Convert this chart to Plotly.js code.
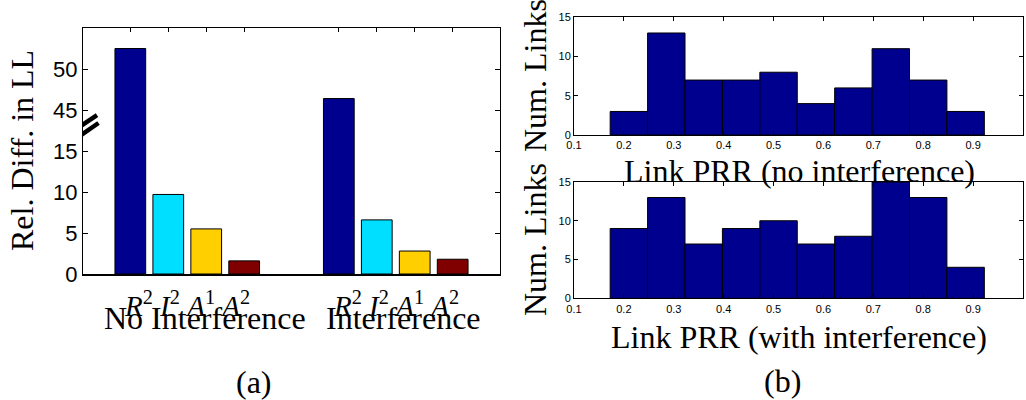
<!DOCTYPE html>
<html>
<head>
<meta charset="utf-8">
<script src="https://cdn.plot.ly/plotly-3.0.1.min.js"></script>
<style>
  html, body { margin: 0; padding: 0; background: #fff; }
  #chart { width: 1026px; height: 400px; }
</style>
</head>
<body>
<div id="chart"></div>
<script>
// ---- (a) relative difference in log-likelihood ----
const groups = ['No Interference', 'Interference'];
const seriesLabels = ['<i>R</i><sup>2</sup>', '<i>I</i><sup>2</sup>', '<i>A</i><sup>1</sup>', '<i>A</i><sup>2</sup>'];
const r2Values = [52.5, 46.4];
const i2Values = [9.7, 6.6];
const a1Values = [5.5, 2.8];
const a2Values = [1.6, 1.8];
const relDiffTicks = [0, 5, 10, 15, 45, 50];

// ---- (b) link PRR histograms ----
const prrBinCenters = [0.21, 0.285, 0.36, 0.435, 0.51, 0.585, 0.66, 0.735, 0.81, 0.885];
const prrBinWidth = 0.075;
const linksNoInterference = [3, 13, 7, 7, 8, 4, 6, 11, 7, 3];
const linksWithInterference = [9, 13, 7, 9, 10, 7, 8, 15, 13, 4];

// broken y axis: everything above the break is shifted down by GAP
const BREAK_LOW = 15, GAP = 25;
const toAxis = v => (v > BREAK_LOW + 10 ? v - GAP : v);

const jet4 = ['#00008F', '#00DFFF', '#FFCF00', '#800000'];
const serif = 'Liberation Serif, Times New Roman, serif';
const sans = 'Liberation Sans, Arial, sans-serif';

const groupX = groups.map((_, i) => i + 1);
const barSeries = [r2Values, i2Values, a1Values, a2Values];
const BARGAP = 0.272;
const slot = (1 - BARGAP) / barSeries.length;

const traces = barSeries.map((vals, k) => ({
  type: 'bar',
  x: groupX,
  y: vals.map(toAxis),
  text: vals.map(v => v.toFixed(1)),
  hovertemplate: '%{text}<extra></extra>',
  textposition: 'none',
  marker: { color: jet4[k], line: { color: '#000', width: 1 } },
  xaxis: 'x', yaxis: 'y',
  showlegend: false
}));

// ticks at each bar centre along the top edge
const barCenters = [];
groupX.forEach(g => {
  for (let k = 0; k < barSeries.length; k++) barCenters.push(g + (k - (barSeries.length - 1) / 2) * slot);
});
traces.push({ type: 'scatter', x: [groupX[0]], y: [0], xaxis: 'x2', yaxis: 'y',
  mode: 'markers', marker: { opacity: 0 }, hoverinfo: 'skip', showlegend: false });

const histTraces = [
  { counts: linksNoInterference, xa: 'x3', ya: 'y3' },
  { counts: linksWithInterference, xa: 'x4', ya: 'y4' }
].map(h => ({
  type: 'bar',
  x: prrBinCenters,
  y: h.counts,
  width: prrBinWidth,
  marker: { color: '#00008F', line: { color: '#000', width: 1 } },
  xaxis: h.xa, yaxis: h.ya,
  hovertemplate: 'PRR %{x:.3f}: %{y}<extra></extra>',
  showlegend: false
}));

const leftDom = [83 / 1026, 500 / 1026];
const rightDom = [574 / 1026, 1023 / 1026];
const py = px => 1 - px / 400;

const histX = {
  range: [0.1, 1], dtick: 0.1, tick0: 0.1,
  ticks: 'inside', ticklen: 4, tickcolor: '#000',
  showline: true, linecolor: '#000', linewidth: 1, mirror: 'ticks',
  tickfont: { family: sans, size: 11, color: '#000' },
  showgrid: false, zeroline: false, fixedrange: true
};
const histY = {
  range: [0, 15], tickvals: [0, 5, 10, 15],
  ticks: 'inside', ticklen: 4, tickcolor: '#000',
  showline: true, linecolor: '#000', linewidth: 1, mirror: 'ticks',
  tickfont: { family: sans, size: 11, color: '#000' },
  showgrid: false, zeroline: false, fixedrange: true
};

const layout = {
  width: 1026, height: 400,
  margin: { l: 0, r: 0, t: 0, b: 0 },
  paper_bgcolor: '#fff', plot_bgcolor: '#fff',
  barmode: 'group', bargap: BARGAP, bargroupgap: 0.19,
  xaxis: {
    domain: leftDom, range: [0.5, 2.5],
    showline: true, linecolor: '#000', linewidth: 2,
    ticks: '', showticklabels: false, showgrid: false, zeroline: false, fixedrange: true
  },
  xaxis2: {
    overlaying: 'x', side: 'top', anchor: 'y', matches: 'x', range: [0.5, 2.5],
    tickvals: barCenters, ticks: 'inside', ticklen: 4, tickcolor: '#000',
    showline: true, linecolor: '#000', linewidth: 1,
    showticklabels: false, showgrid: false, zeroline: false, fixedrange: true
  },
  yaxis: {
    domain: [py(274), py(28)], range: [0, 30],
    tickvals: relDiffTicks.map(toAxis), ticktext: relDiffTicks.map(String),
    ticks: 'inside', ticklen: 5, tickcolor: '#000',
    showline: true, linecolor: '#000', linewidth: 1, mirror: 'ticks',
    tickfont: { family: sans, size: 22, color: '#000' },
    showgrid: false, zeroline: false, fixedrange: true
  },
  xaxis3: Object.assign({ domain: rightDom, anchor: 'y3' }, histX),
  yaxis3: Object.assign({ domain: [py(135), py(17.3)], anchor: 'x3' }, histY),
  xaxis4: Object.assign({ domain: rightDom, anchor: 'y4' }, histX),
  yaxis4: Object.assign({ domain: [py(298.3), py(182)], anchor: 'x4' }, histY),
  annotations: [],
  shapes: []
};

const A = layout.annotations;
const serifFont = size => ({ family: serif, size: size, color: '#000' });
const TXT = 32;

// series labels and group names under each group
const groupNameShift = [18, 8];
groupX.forEach((g, i) => {
  A.push({ xref: 'x', yref: 'paper', x: g, y: py(304), xanchor: 'center', yanchor: 'middle',
    text: seriesLabels.join(' '), showarrow: false, font: serifFont(29) });
  A.push({ xref: 'x', yref: 'paper', x: g, y: py(318), xshift: groupNameShift[i], xanchor: 'center', yanchor: 'middle',
    text: groups[i], showarrow: false, font: serifFont(TXT) });
});
A.push({ xref: 'paper', yref: 'paper', x: 22 / 1026, y: py(151), textangle: -90,
  xanchor: 'center', yanchor: 'middle', text: 'Rel. Diff. in LL', showarrow: false, font: serifFont(TXT) });
A.push({ xref: 'paper', yref: 'paper', x: 254 / 1026, y: py(382), xanchor: 'center', yanchor: 'middle',
  text: '(a)', showarrow: false, font: serifFont(TXT) });

// histogram axis titles
[[76, 'Link PRR (no interference)', 171], [240, 'Link PRR (with interference)', 337]].forEach(([cy, t, ty]) => {
  A.push({ xref: 'paper', yref: 'paper', x: 535 / 1026, y: py(cy), textangle: -90,
    xanchor: 'center', yanchor: 'middle', text: 'Num. Links', showarrow: false, font: serifFont(TXT) });
  A.push({ xref: 'paper', yref: 'paper', x: 799 / 1026, y: py(ty), xanchor: 'center', yanchor: 'middle',
    text: t, showarrow: false, font: serifFont(TXT) });
});
A.push({ xref: 'paper', yref: 'paper', x: 782 / 1026, y: py(381), xanchor: 'center', yanchor: 'middle',
  text: '(b)', showarrow: false, font: serifFont(TXT) });

// axis-break marks on the left spine (offsets in pixels from the break point)
const breakMarks = [
  { x0: -11, x1: 14, y0: -4.8, y1: 12.2 },
  { x0: -7.5, x1: 15.5, y0: -11.8, y1: 4.2 }
];
breakMarks.forEach(m => {
  layout.shapes.push(Object.assign({
    type: 'line', xref: 'x', yref: 'y', xsizemode: 'pixel', ysizemode: 'pixel',
    xanchor: 0.5, yanchor: 17.9,
    line: { color: '#000', width: 4.5 }
  }, m));
});

Plotly.newPlot('chart', traces.concat(histTraces), layout, { displayModeBar: false, staticPlot: true });
</script>
</body>
</html>
